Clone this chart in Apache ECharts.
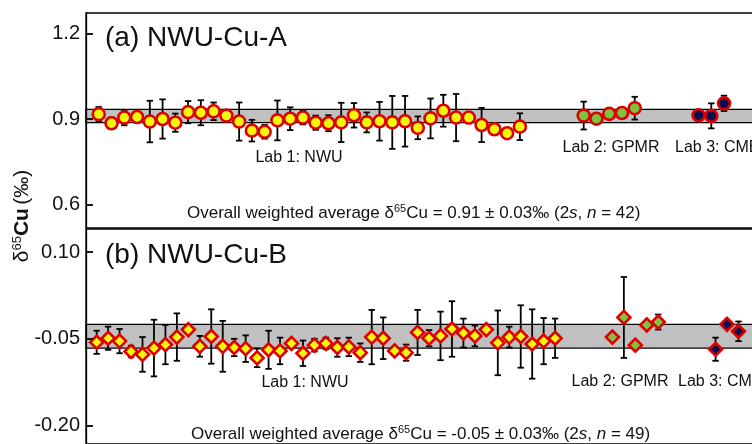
<!DOCTYPE html>
<html>
<head>
<meta charset="utf-8">
<script src="https://cdn.jsdelivr.net/npm/echarts@6/dist/echarts.min.js"></script>
<style>html,body{margin:0;padding:0;background:#fff;overflow:hidden;width:752px;height:444px}#c{width:772px;height:444px}</style>
</head>
<body>
<div id="c"></div>
<script>
// ---------- Panel (a) NWU-Cu-A ----------
const aLab1Val = [0.917,0.885,0.905,0.907,0.891,0.900,0.887,0.924,0.922,0.927,0.912,0.891,0.859,0.855,0.895,0.901,0.905,0.887,0.885,0.888,0.913,0.888,0.892,0.888,0.892,0.869,0.902,0.929,0.905,0.905,0.879,0.864,0.850,0.873];
const aLab1Err = [0.025,0.02,0.027,0.01,0.073,0.069,0.032,0.039,0.044,0.031,0.02,0.067,0.038,0.024,0.07,0.04,0.024,0.025,0.028,0.069,0.043,0.035,0.068,0.093,0.089,0.04,0.07,0.056,0.083,0.02,0.06,0,0,0.047];
const aLab2Val = [0.912,0.901,0.918,0.921,0.938];
const aLab2Err = [0.049,0,0,0,0.04];
const aLab3Val = [0.913,0.911,0.955];
const aLab3Err = [0,0.044,0.027];
const aLab1Pos = aLab1Val.map((_, i) => i);          // 0..33
const aLab2Pos = [38,39,40,41,42];
const aLab3Pos = [47,48,49];
const aBand = [0.887, 0.934];
const aTicks = [0.6, 0.9, 1.2];

// ---------- Panel (b) NWU-Cu-B ----------
const bLab1Val = [-0.056,-0.049,-0.054,-0.072,-0.077,-0.066,-0.060,-0.047,-0.034,-0.063,-0.046,-0.063,-0.065,-0.067,-0.083,-0.069,-0.071,-0.058,-0.075,-0.061,-0.058,-0.065,-0.064,-0.074,-0.047,-0.049,-0.071,-0.074,-0.039,-0.049,-0.045,-0.033,-0.040,-0.045,-0.034,-0.057,-0.047,-0.046,-0.059,-0.054,-0.049];
const bLab1Err = [0.020,0.020,0.021,0.01,0.030,0.049,0.034,0.041,0,0.018,0.047,0.044,0.015,0.023,0.016,0.033,0.023,0,0.022,0.011,0.010,0.016,0.016,0.016,0.047,0.036,0,0.014,0.039,0.014,0.042,0.048,0.025,0.018,0,0.056,0.018,0.054,0.06,0.040,0.034];
const bLab2Val = [-0.047,-0.013,-0.061,-0.026,-0.021];
const bLab2Err = [0,0.07,0,0,0.013];
const bLab3Val = [-0.068,-0.025,-0.037];
const bLab3Err = [0.02,0,0.017];
const bLab1Pos = bLab1Val.map((_, i) => i);          // 0..40
const bLab2Pos = [45,46,47,48,49];
const bLab3Pos = [54,55,56];
const bBand = [-0.066, -0.025];
const bTicks = [-0.20, -0.05, 0.10];

const RED = '#dd0000', YEL = '#f6f60a', GRN = '#7fc242', NAVY = '#0e0e4e';
const FONT = '"Liberation Sans", Arial, sans-serif';

function pts(pos, val, err) { return pos.map((p, i) => [p, val[i], err[i]]); }

function errSeries(gi, data) {
  return {
    type: 'custom', xAxisIndex: gi, yAxisIndex: gi, z: 2, silent: true,
    data: data,
    renderItem: function (params, api) {
      const x = api.value(0), v = api.value(1), e = api.value(2);
      if (!e) return;
      const t = api.coord([x, v + e]), b = api.coord([x, v - e]);
      const c = 3.2, st = { stroke: '#000', lineWidth: 1.8 };
      return { type: 'group', children: [
        { type: 'line', shape: { x1: t[0], y1: t[1], x2: b[0], y2: b[1] }, style: st },
        { type: 'line', shape: { x1: t[0]-c, y1: t[1], x2: t[0]+c, y2: t[1] }, style: st },
        { type: 'line', shape: { x1: b[0]-c, y1: b[1], x2: b[0]+c, y2: b[1] }, style: st }
      ]};
    }
  };
}
function scat(gi, data, fill, symbol, size) {
  return {
    type: 'scatter', xAxisIndex: gi, yAxisIndex: gi, z: 3, silent: true,
    symbol: symbol, symbolSize: size,
    itemStyle: { color: fill, borderColor: RED, borderWidth: 2.6, opacity: 1 },
    data: data.map(d => [d[0], d[1]])
  };
}
function band(gi, rng) {
  return {
    type: 'line', xAxisIndex: gi, yAxisIndex: gi, z: 1, data: [], silent: true,
    markArea: { silent: true, itemStyle: { color: '#c0c0c0', borderColor: '#000', borderWidth: 1.2 },
      data: [[{ yAxis: rng[0] }, { yAxis: rng[1] }]] }
  };
}

const aL1 = pts(aLab1Pos, aLab1Val, aLab1Err), aL2 = pts(aLab2Pos, aLab2Val, aLab2Err), aL3 = pts(aLab3Pos, aLab3Val, aLab3Err);
const bL1 = pts(bLab1Pos, bLab1Val, bLab1Err), bL2 = pts(bLab2Pos, bLab2Val, bLab2Err), bL3 = pts(bLab3Pos, bLab3Val, bLab3Err);

function yAx(gi, min, max, ticks, fmt) {
  return {
    type: 'value', gridIndex: gi, min: min, max: max, z: 5,
    splitLine: { show: false }, axisLine: { show: true, onZero: false, lineStyle: { color: '#000', width: 1.3 } },
    axisTick: { show: true, inside: true, length: 7, customValues: ticks, lineStyle: { color: '#000', width: 1.8 } },
    axisLabel: { customValues: ticks, formatter: fmt, color: '#111', fontFamily: FONT, fontSize: 20, margin: 6 }
  };
}

function txt(x, y, text, size, rich, align) {
  return { type: 'text', x: x, y: y, silent: true,
    style: { text: text, font: size + 'px ' + FONT, fill: '#111', align: align || 'left', verticalAlign: 'middle', rich: rich || undefined } };
}
const supRich = (fs) => ({
  n: { fontSize: fs, fontFamily: FONT, fill: '#111' },
  sup: { fontSize: Math.round(fs * 0.62), fontFamily: FONT, fill: '#111', verticalAlign: 'top', padding: [0, 0, Math.round(fs*0.45), 0] },
  i: { fontSize: fs, fontFamily: FONT, fontStyle: 'italic', fill: '#111' }
});

const chart = echarts.init(document.getElementById('c'));
chart.setOption({
  animation: false,
  grid: [
    { left: 86, top: 13, width: 684, height: 215, show: true, borderColor: '#000', borderWidth: 1.3, backgroundColor: 'transparent' },
    { left: 86, top: 229, width: 684, height: 217, show: true, borderColor: '#000', borderWidth: 1.3, backgroundColor: 'transparent' }
  ],
  xAxis: [
    { type: 'value', gridIndex: 0, min: -1, max: 52.6, show: false },
    { type: 'value', gridIndex: 1, min: -0.93, max: 58.75, show: false }
  ],
  yAxis: [
    yAx(0, 0.5167, 1.2727, aTicks, v => v.toFixed(1)),
    yAx(1, -0.232, 0.140, bTicks, v => v.toFixed(2))
  ],
  series: [
    band(0, aBand), band(1, bBand),
    errSeries(0, aL1.concat(aL2, aL3)), errSeries(1, bL1.concat(bL2, bL3)),
    scat(0, aL1, YEL, 'circle', 12), scat(0, aL2, GRN, 'circle', 12), scat(0, aL3, NAVY, 'circle', 12),
    scat(1, bL1, YEL, 'diamond', 13), scat(1, bL2, GRN, 'diamond', 13), scat(1, bL3, NAVY, 'diamond', 13)
  ],
  graphic: [
    txt(105, 38, '(a) NWU-Cu-A', 28),
    txt(105, 255, '(b) NWU-Cu-B', 28),
    txt(299, 158, 'Lab 1: NWU', 16, null, 'center'),
    txt(611, 148, 'Lab 2: GPMR', 16, null, 'center'),
    txt(675, 148, 'Lab 3: CMB', 16),
    txt(305, 383, 'Lab 1: NWU', 16, null, 'center'),
    txt(620, 382, 'Lab 2: GPMR', 16, null, 'center'),
    txt(678, 382, 'Lab 3: CMB', 16),
    txt(187, 213, '{n|Overall weighted average δ}{sup|65}{n|Cu = 0.91 ± 0.03‰ (2}{i|s}{n|, }{i|n}{n| = 42)}', 17, supRich(17)),
    txt(191, 434, '{n|Overall weighted average δ}{sup|65}{n|Cu = -0.05 ± 0.03‰ (2}{i|s}{n|, }{i|n}{n| = 49)}', 17, supRich(17)),
    { type: 'text', x: 22, y: 216, rotation: Math.PI / 2, silent: true,
      style: { text: '{n|δ}{sup|65}{b|Cu} {n|(‰)}', align: 'center', verticalAlign: 'middle', fill: '#111',
        rich: {
          n: { fontSize: 21, fontFamily: FONT, fill: '#111' },
          b: { fontSize: 21, fontFamily: FONT, fontWeight: 'bold', fill: '#111' },
          sup: { fontSize: 13, fontFamily: FONT, fill: '#111', verticalAlign: 'top', padding: [0, 0, 9, 0] }
        } } }
  ]
});
</script>
</body>
</html>
